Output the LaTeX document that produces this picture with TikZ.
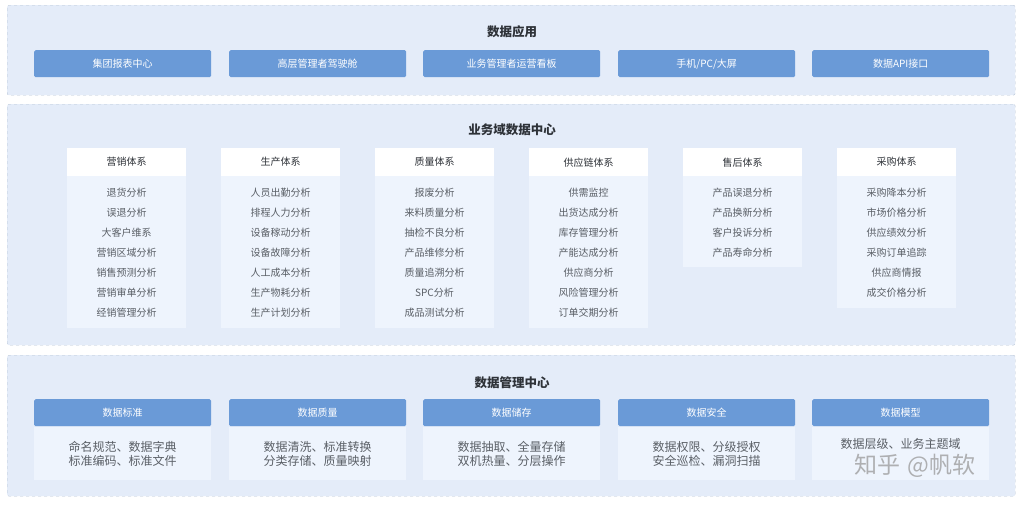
\documentclass[tikz,border=0pt]{standalone}
\usepackage{fontspec}
\setmainfont{Noto Sans CJK SC}
\definecolor{panelfill}{HTML}{E4ECF9}
\definecolor{panelline}{HTML}{B9C5D6}
\definecolor{btnblue}{HTML}{6A9AD7}
\definecolor{bodyfill}{HTML}{EEF4FD}
\definecolor{itemgray}{HTML}{5A5F66}
\definecolor{titlegray}{HTML}{2E3238}

\begin{document}
\begin{tikzpicture}
[
    x=1pt, y=-1pt,
    layer/.style={draw=panelline, dashed, fill=panelfill, rounded corners=2pt,
        anchor=north west, inner sep=0pt, minimum width=1008pt},
    title/.style={font=\fontsize{12.5}{14}\selectfont\bfseries, text=titlegray},
    btn/.style={fill=btnblue, rounded corners=1.5pt, anchor=north west, inner sep=0pt,
        minimum width=177pt, minimum height=27pt, text=white,
        font=\fontsize{10}{12}\selectfont},
    head/.style={fill=white, anchor=north west, inner sep=0pt,
        minimum width=119pt, minimum height=28pt, text=titlegray,
        font=\fontsize{10}{12}\selectfont},
    body/.style={fill=bodyfill, anchor=north west, inner sep=0pt, minimum width=119pt},
    item/.style={text=itemgray, font=\fontsize{10}{12}\selectfont},
    mgbody/.style={fill=bodyfill, anchor=north west, inner sep=0pt,
        minimum width=177pt, minimum height=53pt},
    mgtext/.style={text=itemgray, font=\fontsize{12}{14}\selectfont},
]
\fill[white] (0,0) rectangle (1024,506);
\useasboundingbox (0,0) rectangle (1024,506);

% layers
\node [layer, minimum height=90pt] (app) at (7,5) {};
\node [layer, minimum height=241pt] (biz) at (7,104) {};
\node [layer, minimum height=141pt] (mgmt) at (7,355) {};

% data application
\node [title] (apptitle) at (512,32) {数据应用};
\node [btn] (a1) at (34,50) {集团报表中心};
\node [btn] (a2) at (229,50) {高层管理者驾驶舱};
\node [btn] (a3) at (423,50) {业务管理者运营看板};
\node [btn] (a4) at (618,50) {手机/PC/大屏};
\node [btn] (a5) at (812,50) {数据API接口};

% business domain
\node [title] (biztitle) at (512,130) {业务域数据中心};

\node [body, minimum height=152pt] (b1) at (67,176) {};
\node [head] (h1) at (67,148) {营销体系};
\foreach \t [count=\i] in {退货分析,误退分析,大客户维系,营销区域分析,销售预测分析,营销审单分析,经销管理分析}
    \node [item] (m\i) at (126.5,173+20*\i) {\t};

\node [body, minimum height=152pt] (b2) at (221,176) {};
\node [head] (h2) at (221,148) {生产体系};
\foreach \t [count=\i] in {人员出勤分析,排程人力分析,设备稼动分析,设备故障分析,人工成本分析,生产物耗分析,生产计划分析}
    \node [item] (p\i) at (280.5,173+20*\i) {\t};

\node [body, minimum height=152pt] (b3) at (375,176) {};
\node [head] (h3) at (375,148) {质量体系};
\foreach \t [count=\i] in {报废分析,来料质量分析,抽检不良分析,产品维修分析,质量追溯分析,SPC分析,成品测试分析}
    \node [item] (q\i) at (434.5,173+20*\i) {\t};

\node [body, minimum height=152pt] (b4) at (529,176) {};
\node [head] (h4) at (529,148) {供应链体系};
\foreach \t [count=\i] in {供需监控,出货达成分析,库存管理分析,产能达成分析,供应商分析,风险管理分析,订单交期分析}
    \node [item] (s\i) at (588.5,173+20*\i) {\t};

\node [body, minimum height=91pt] (b5) at (683,176) {};
\node [head] (h5) at (683,148) {售后体系};
\foreach \t [count=\i] in {产品误退分析,产品换新分析,客户投诉分析,产品寿命分析}
    \node [item] (f\i) at (742.5,173+20*\i) {\t};

\node [body, minimum height=132pt] (b6) at (837,176) {};
\node [head] (h6) at (837,148) {采购体系};
\foreach \t [count=\i] in {采购降本分析,市场价格分析,供应绩效分析,采购订单追踪,供应商情报,成交价格分析}
    \node [item] (c\i) at (896.5,173+20*\i) {\t};

% data management
\node [title] (mgtitle) at (512,383) {数据管理中心};
\node [mgbody] (d1) at (34,427) {};
\node [btn] (g1) at (34,399) {数据标准};
\node [mgtext, align=center] (t1) at (122.5,454) {命名规范、数据字典\\标准编码、标准文件};
\node [mgbody] (d2) at (229,427) {};
\node [btn] (g2) at (229,399) {数据质量};
\node [mgtext, align=center] (t2) at (317.5,454) {数据清洗、标准转换\\分类存储、质量映射};
\node [mgbody] (d3) at (423,427) {};
\node [btn] (g3) at (423,399) {数据储存};
\node [mgtext, align=center] (t3) at (511.5,454) {数据抽取、全量存储\\双机热量、分层操作};
\node [mgbody] (d4) at (618,427) {};
\node [btn] (g4) at (618,399) {数据安全};
\node [mgtext, align=center] (t4) at (706.5,454) {数据权限、分级授权\\安全巡检、漏洞扫描};
\node [mgbody] (d5) at (812,427) {};
\node [btn] (g5) at (812,399) {数据模型};
\node [mgtext] (t5) at (900.5,444) {数据层级、业务主题域};

% watermark
\node [text=gray!80, opacity=0.75, inner sep=0pt, font=\fontsize{23}{24}\selectfont] (mark) at (915,466) {知乎\,\,@帆软};
\end{tikzpicture}
\end{document}
